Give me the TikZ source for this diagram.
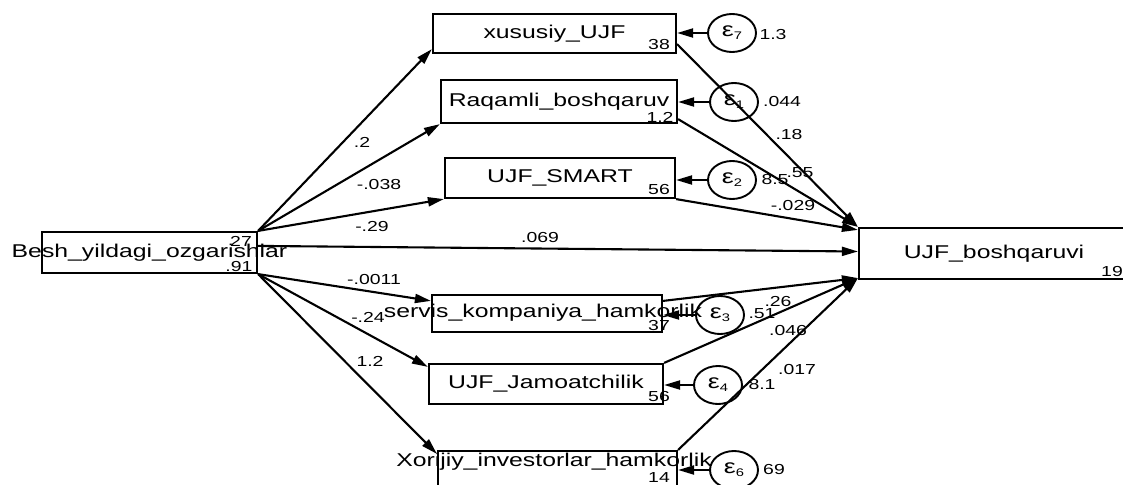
\documentclass[tikz,border=0pt]{standalone}
\usepackage{fontspec}
\setmainfont{Liberation Sans}[FakeStretch=1.34]
\usetikzlibrary{arrows.meta,shapes.geometric}
\begin{document}
\begin{tikzpicture}[x=1pt,y=-1pt,
  box/.style={draw,line width=2.2pt,rectangle,inner sep=0pt,font=\fontsize{18.5}{20}\selectfont},
  err/.style={draw,line width=1.9pt,ellipse,minimum width=48pt,minimum height=38pt,inner sep=0pt,font=\fontsize{20}{22}\selectfont},
  num/.style={inner sep=0pt,font=\fontsize{14.5}{15}\selectfont},
  big/.style={inner sep=0pt,font=\fontsize{18.5}{20}\selectfont},
  arr/.style={line width=2.1pt,-{Triangle[length=16pt,width=9pt]}},
]
\useasboundingbox (0,0) rectangle (1123,484);
\clip (0,0) rectangle (1123,484);
\newcommand\eps[1]{ε\raisebox{-3pt}{\fontsize{11}{11}\selectfont #1}}

% boxes
\node[box,minimum width=215pt,minimum height=41pt] (besh) at (149.5,252.5) {\makebox[0pt]{Besh\_yildagi\_ozgarishlar}};
\node[box,minimum width=243pt,minimum height=39pt] (xus) at (554.5,33.5) {\makebox[0pt]{xususiy\_UJF}};
\node[box,minimum width=236pt,minimum height=43pt] (raq) at (559,101.5) {\makebox[0pt]{Raqamli\_boshqaruv}};
\node[box,minimum width=230pt,minimum height=40pt] (smart) at (560,178) {\makebox[0pt]{UJF\_SMART}};
\node[box,minimum width=280pt,minimum height=51pt] (ujfb) at (999,253.5) {\makebox[0pt]{\hspace{-10pt}UJF\_boshqaruvi}};
\node[box,minimum width=230pt,minimum height=37pt] (serv) at (547,313.5) {};
\node[box,minimum width=234pt,minimum height=40pt] (jam) at (546,384) {\makebox[0pt]{UJF\_Jamoatchilik}};
\node[box,minimum width=239pt,minimum height=37pt] (xor) at (557.5,469.5) {};

% error terms
\node[err] (e7) at (732,33) {\eps{7}};
\node[err] (e1) at (734,102) {\eps{1}};
\node[err] (e2) at (732,180) {\eps{2}};
\node[err] (e3) at (720,315) {\eps{3}};
\node[err] (e4) at (718,385) {\eps{4}};
\node[err] (e6) at (734,470) {\eps{6}};

% overflowing box texts
\node[big] (servtext) at (543,313) {\makebox[0pt]{servis\_kompaniya\_hamkorlik}};
\node[big] (xortext) at (554,462) {\makebox[0pt]{Xorijiy\_investorlar\_hamkorlik}};

% paths from Besh
\draw[arr] (besh.north east) -- ([yshift=5pt]xus.south west);
\draw[arr] (besh.north east) -- (raq.south west);
\draw[arr] (besh.north east) -- (smart.south west);
\draw[arr] ([yshift=-15pt]besh.north east) -- ([yshift=2pt]ujfb.west);
\draw[arr] (besh.south east) -- ([yshift=-7pt]serv.north west);
\draw[arr] (besh.south east) -- ([yshift=-4pt]jam.north west);
\draw[arr] (besh.south east) -- ([yshift=-4pt]xor.north west);

% paths to UJF_boshqaruvi
\draw[arr] ([yshift=10pt]xus.south east) -- (ujfb.north west);
\draw[arr] ([yshift=5pt]raq.south east) -- (ujfb.north west);
\draw[arr] (smart.south east) -- ([yshift=-3pt]ujfb.north west);
\draw[arr] ([yshift=-7pt]serv.north east) -- ([yshift=2pt]ujfb.south west);
\draw[arr] (jam.north east) -- ([yshift=2pt]ujfb.south west);
\draw[arr] (xor.north east) -- ([yshift=2pt]ujfb.south west);

% error arrows
\draw[arr] (e7.west) -- (e7.west -| xus.east);
\draw[arr] (e1.west) -- (e1.west -| raq.east);
\draw[arr] (e2.west) -- (e2.west -| smart.east);
\draw[arr] (e3.west) -- (e3.west -| serv.east);
\draw[arr] (e4.west) -- (e4.west -| jam.east);
\draw[arr] (e6.west) -- (e6.west -| xor.east);

% numbers inside boxes
\node[num] (n27) at (241,241) {27};
\node[num] (n91) at (239,267) {.91};
\node[num] (n38) at (659,45) {38};
\node[num] (n12a) at (660,117) {1.2};
\node[num] (n56a) at (659,190) {56};
\node[num] (n37) at (659,326) {37};
\node[num] (n56b) at (659,397) {56};
\node[num] (n14) at (659,478) {14};
\node[num] (n19) at (1112,272) {19};

% error variances
\node[num] (v7) at (773,35) {1.3};
\node[num] (v1) at (782,102) {.044};
\node[num] (v2) at (775,180) {8.5};
\node[num] (v3) at (762,314) {.51};
\node[num] (v4) at (762,385) {8.1};
\node[num] (v6) at (774,470) {69};

% coefficients
\node[num] (c1) at (362,142) {.2};
\node[num] (c2) at (379,185) {-.038};
\node[num] (c3) at (372,227) {-.29};
\node[num] (c4) at (540,238) {.069};
\node[num] (c5) at (374,280) {-.0011};
\node[num] (c6) at (368,317) {-.24};
\node[num] (c7) at (370,361) {1.2};
\node[num] (c8) at (789,135) {.18};
\node[num] (c9) at (800,173) {.55};
\node[num] (c10) at (793,206) {-.029};
\node[num] (c11) at (778,302) {.26};
\node[num] (c12) at (788,331) {.046};
\node[num] (c13) at (797,370) {.017};
\end{tikzpicture}
\end{document}
